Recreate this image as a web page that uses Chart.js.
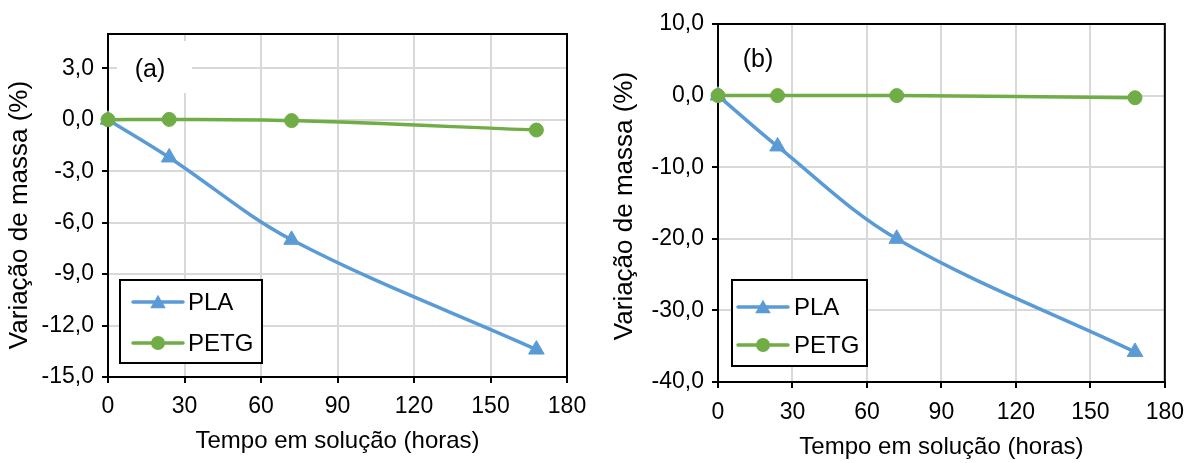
<!DOCTYPE html>
<html>
<head>
<meta charset="utf-8">
<script src="https://cdn.jsdelivr.net/npm/chart.js@4.4.0/dist/chart.umd.min.js"></script>
<style>
  html, body { margin: 0; padding: 0; background: #fff; }
  #wrap { position: relative; width: 1195px; height: 463px; overflow: hidden; }
  .panel { position: absolute; top: 0; height: 463px; }
  #pa { left: 0; width: 600px; }
  #pb { left: 600px; width: 595px; }
  canvas { display: block; }
</style>
</head>
<body>
<div id="wrap">
  <div class="panel" id="pa"><canvas id="ca" width="600" height="463"></canvas></div>
  <div class="panel" id="pb"><canvas id="cb" width="595" height="463"></canvas></div>
</div>
<script>
// Sampling times (hours in solution)
const hours = [0, 24, 72, 168];

// Panel (a): mass change (%)
const plaA  = [0, -2.2, -7.0, -13.4];
const petgA = [0, 0.02, -0.05, -0.6];

// Panel (b): mass change (%)
const plaB  = [0, -7.1, -20.0, -35.8];
const petgB = [0, 0, 0, -0.3];

// Axis ticks
const xTicks  = [0, 30, 60, 90, 120, 150, 180];
const yTicksA = [-15, -12, -9, -6, -3, 0, 3];
const yTicksB = [-40, -30, -20, -10, 0, 10];

const seriesNames = ['PLA', 'PETG'];
const panelLabels = ['(a)', '(b)'];
const xTitle = 'Tempo em solução (horas)';
const yTitle = 'Variação de massa (%)';

const FONT_FAMILY = '"Liberation Sans", Arial, sans-serif';
const TICK_FONT = { family: FONT_FAMILY, size: 23 };
const XTITLE_FONT = { family: FONT_FAMILY, size: 24 };
const TEXT = '#000';
const BLUE = '#5B9BD5';
const GREEN = '#70AD47';

const fmt = v => v.toFixed(1).replace('.', ',');

// Frame, panel letter, rotated y title and an in-plot legend
const panelDeco = {
  id: 'panelDeco',
  beforeDatasetsDraw(chart, args, o) {
    const { ctx, chartArea: a } = chart;
    ctx.save();
    if (o.box) {
      ctx.fillStyle = '#fff';
      ctx.fillRect(a.left + o.box[0], a.top + o.box[1], o.box[2], o.box[3]);
    }
    ctx.strokeStyle = '#000';
    ctx.lineWidth = 2;
    ctx.strokeRect(a.left, a.top, a.right - a.left, a.bottom - a.top);
    ctx.fillStyle = TEXT;
    ctx.font = '25px ' + FONT_FAMILY;
    ctx.textAlign = 'center';
    ctx.textBaseline = 'middle';
    ctx.fillText(o.label, a.left + o.labelPos[0], a.top + o.labelPos[1]);
    // y axis title
    ctx.translate(a.left + o.yTitlePos[0], a.top + o.yTitlePos[1]);
    ctx.rotate(-Math.PI / 2);
    ctx.font = '26px ' + FONT_FAMILY;
    ctx.fillText(yTitle, 0, 0);
    ctx.restore();
  },
  afterDatasetsDraw(chart, args, o) {
    const { ctx, chartArea: a } = chart;
    const L = o.legend;
    const x0 = a.left + L.x, y0 = a.top + L.y;
    ctx.save();
    ctx.fillStyle = '#fff';
    ctx.fillRect(x0, y0, L.w, L.h);
    ctx.strokeStyle = '#000';
    ctx.lineWidth = 2;
    ctx.strokeRect(x0, y0, L.w, L.h);
    chart.data.datasets.forEach((ds, i) => {
      const y = y0 + L.rows[i];
      ctx.strokeStyle = ds.borderColor;
      ctx.lineWidth = ds.borderWidth;
      ctx.lineCap = 'round';
      ctx.beginPath();
      ctx.moveTo(x0 + L.line[0], y);
      ctx.lineTo(x0 + L.line[1], y);
      ctx.stroke();
      const mx = x0 + L.marker;
      const r = ds.pointRadius;
      ctx.fillStyle = ds.backgroundColor;
      ctx.beginPath();
      if (ds.pointStyle === 'triangle') {
        for (let k = 0; k < 3; k++) {
          const ang = k * 2 * Math.PI / 3;
          const px = mx + Math.sin(ang) * r, py = y + r * 0.2 - Math.cos(ang) * r;
          if (k === 0) ctx.moveTo(px, py); else ctx.lineTo(px, py);
        }
        ctx.closePath();
      } else {
        ctx.arc(mx, y, r, 0, Math.PI * 2);
      }
      ctx.fill();
      ctx.fillStyle = TEXT;
      ctx.font = '24px ' + FONT_FAMILY;
      ctx.textAlign = 'left';
      ctx.textBaseline = 'middle';
      ctx.fillText(ds.label, x0 + L.text, y + 1);
    });
    ctx.restore();
  }
};

function makeChart(id, pla, petg, yMin, yMax, yTicks, deco, lay) {
  const pts = arr => hours.map((h, i) => ({ x: h, y: arr[i] }));
  return new Chart(document.getElementById(id), {
    type: 'line',
    data: {
      datasets: [
        { label: seriesNames[0], data: pts(pla), borderColor: BLUE, backgroundColor: BLUE,
          borderWidth: 3.5, pointStyle: 'triangle', pointRadius: 9, pointBorderWidth: 1,
          tension: 0.35, order: 1, clip: false },
        { label: seriesNames[1], data: pts(petg), borderColor: GREEN, backgroundColor: GREEN,
          borderWidth: 3.5, pointStyle: 'circle', pointRadius: 7, pointBorderWidth: 1,
          tension: 0.35, order: 0, clip: false }
      ]
    },
    options: {
      responsive: false,
      animation: false,
      events: [],
      layout: { padding: { left: 0, right: lay.right, top: lay.top, bottom: 0 } },
      plugins: { legend: { display: false }, tooltip: { enabled: false }, panelDeco: deco },
      scales: {
        x: {
          type: 'linear', min: 0, max: 180,
          afterBuildTicks: s => { s.ticks = xTicks.map(v => ({ value: v })); },
          afterFit: s => { s.height = lay.xh; },
          ticks: { font: TICK_FONT, color: TEXT, padding: lay.xpad, maxRotation: 0, autoSkip: false },
          grid: { color: '#d9d9d9', lineWidth: 2, tickColor: '#000', tickLength: 6, tickWidth: 2 },
          border: { color: '#000', width: 2 },
          title: { display: true, text: xTitle, font: XTITLE_FONT, color: TEXT, padding: { top: 0, bottom: lay.xtb } }
        },
        y: {
          type: 'linear', min: yMin, max: yMax,
          afterBuildTicks: s => { s.ticks = yTicks.map(v => ({ value: v })); },
          afterFit: s => { s.width = lay.yw; },
          ticks: { font: TICK_FONT, color: TEXT, padding: 8, autoSkip: false, callback: v => fmt(v) },
          grid: { color: '#d9d9d9', lineWidth: 2, tickColor: '#000', tickLength: 6, tickWidth: 2 },
          border: { color: '#000', width: 2 },
          title: { display: false }
        }
      }
    },
    plugins: [panelDeco]
  });
}

makeChart('ca', plaA, petgA, -15, 5, yTicksA,
  { label: panelLabels[0], labelPos: [42, 36], box: [9, 7, 75, 52], yTitlePos: [-88, 181],
    legend: { x: 12, y: 246, w: 142, h: 83, rows: [22, 63], line: [13, 63], marker: 38, text: 68 } },
  { right: 33, top: 34, xh: 86, xpad: 10, xtb: 7, yw: 108 });

makeChart('cb', plaB, petgB, -40, 10, yTicksB,
  { label: panelLabels[1], labelPos: [40, 36], box: null, yTitlePos: [-93, 182],
    legend: { x: 14, y: 256, w: 135, h: 86, rows: [27, 65], line: [6, 56], marker: 31, text: 62 } },
  { right: 30, top: 24, xh: 81, xpad: 11, xtb: 1, yw: 118 });
</script>
</body>
</html>
